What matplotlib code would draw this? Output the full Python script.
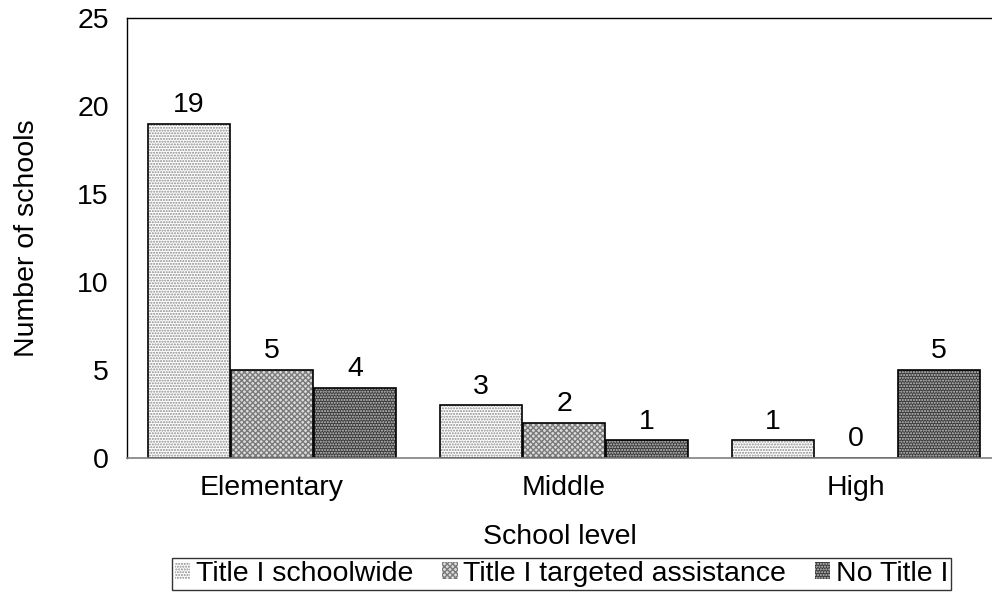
import matplotlib

matplotlib.use("Agg")
import matplotlib.pyplot as plt
import numpy as np

plt.rcParams["font.family"] = ["Liberation Sans", "DejaVu Sans"]

levels = ["Elementary", "Middle", "High"]
series = ["Title I schoolwide", "Title I targeted assistance", "No Title I"]
schoolwide = [19, 3, 1]
targeted = [5, 2, 0]
no_title = [4, 1, 5]
yticks = [0, 5, 10, 15, 20, 25]

# fill, hatch colour, hatch pattern per series
styles = [
    ("#ffffff", "#8a8a8a", "......"),
    ("#dcdcdc", "#7a7a7a", "xxxxxx"),
    ("#3a3a3a", "#c8c8c8", "......"),
]

FS = 20.5

fig = plt.figure(figsize=(9.92, 5.96), dpi=100)
ax = fig.add_axes([0.128, 0.2315, 0.872, 0.7383])

x = np.arange(len(levels))
width = 0.28
step = 0.284
handles = []
for i, (vals, name, (fc, hc, hatch)) in enumerate(zip([schoolwide, targeted, no_title], series, styles)):
    pos = x + (i - 1) * step
    # hatched fill, then a separate black outline
    ax.bar(pos, vals, width, color=fc, edgecolor=hc, hatch=hatch, linewidth=0)
    ax.bar(pos, vals, width, fill=False, edgecolor="black", linewidth=1.2)
    for p, v in zip(pos, vals):
        ax.annotate(str(v), (p, v), xytext=(0, 4), textcoords="offset points",
                    ha="center", va="bottom", fontsize=FS)
    handles.append(plt.Rectangle((0, 0), 1, 1, facecolor=fc, edgecolor=hc, hatch=hatch, linewidth=0))

ax.set_xlim(-0.497, 2.466)
ax.set_ylim(0, 25)
ax.set_yticks(yticks)
ax.set_xticks(x)
ax.set_xticklabels(levels)
ax.tick_params(axis="both", length=0, labelsize=FS)
ax.tick_params(axis="y", pad=13)
ax.tick_params(axis="x", pad=12)
ax.spines["right"].set_visible(False)
ax.spines["left"].set_color("black")
ax.spines["top"].set_color("black")
ax.spines["bottom"].set_color("#808080")
ax.spines["left"].set_linewidth(1.0)
ax.spines["top"].set_linewidth(1.0)
ax.spines["bottom"].set_linewidth(1.2)

ax.set_xlabel("School level", fontsize=FS, labelpad=17)
ax.set_ylabel("Number of schools", fontsize=FS, labelpad=27)

leg = fig.legend(handles, series, loc="center", bbox_to_anchor=(0.566, 0.037), ncol=3,
                 fontsize=FS, frameon=True, fancybox=False, handlelength=0.55,
                 handleheight=0.55, handletextpad=0.2, columnspacing=1.0,
                 borderpad=0.1, borderaxespad=0)
leg.get_frame().set_edgecolor("black")
leg.get_frame().set_linewidth(1.0)

fig.savefig("out.png", dpi=100)
